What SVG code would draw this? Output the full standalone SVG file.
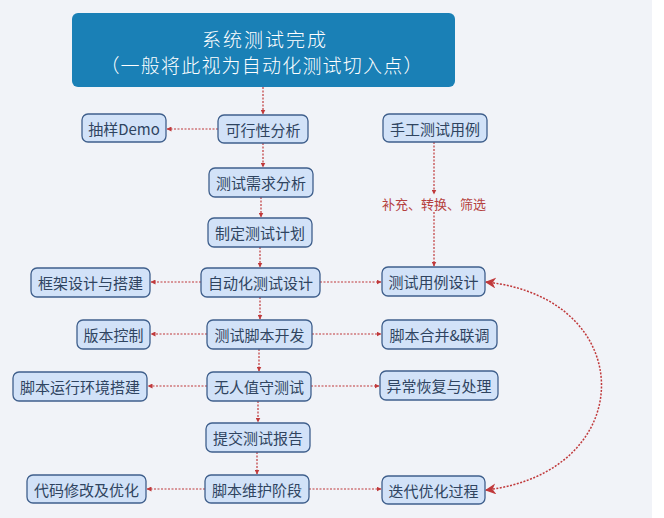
<svg xmlns="http://www.w3.org/2000/svg" width="664" height="518" viewBox="0 0 664 518">
<defs>
<style>
.n rect{fill:#d2e2f8;stroke:#3f5f8c;stroke-width:1.3}
.n text{font-family:"Noto Sans CJK SC","Liberation Sans",sans-serif;font-size:15px;fill:#2f4460;text-anchor:middle;dominant-baseline:central}
.t{font-family:"Noto Sans CJK SC","Liberation Sans",sans-serif;fill:#ffffff;text-anchor:middle;dominant-baseline:central;font-weight:300}
.c{stroke:#c0393b;stroke-width:1.2;stroke-dasharray:2 1.5;fill:none;marker-end:url(#a)}
.big{stroke:#c0393b;stroke-width:1.5;stroke-dasharray:2 1.5;fill:none;marker-start:url(#b);marker-end:url(#b)}
</style>
<marker id="a" viewBox="0 0 10 10" refX="9" refY="5" markerWidth="5" markerHeight="5" orient="auto" markerUnits="userSpaceOnUse"><path d="M0,0 L10,5 L0,10 z" fill="#c0393b"/></marker>
<marker id="b" viewBox="0 0 10 10" refX="9" refY="5" markerWidth="11" markerHeight="11" orient="auto-start-reverse" markerUnits="userSpaceOnUse"><path d="M0,0 L10,5 L0,10 L3,5 z" fill="#c0393b"/></marker>
</defs>
<rect x="0" y="0" width="664" height="518" fill="#ffffff"/>
<rect x="0" y="0" width="652" height="518" fill="#f1f3f8"/>

<g id="connectors">
<path class="c" d="M263,87 V114"/>
<path class="c" d="M263,143 V167"/>
<path class="c" d="M261,197 V217"/>
<path class="c" d="M260,247 V267"/>
<path class="c" d="M260,297 V319"/>
<path class="c" d="M259,349 V371"/>
<path class="c" d="M258,401 V422"/>
<path class="c" d="M257,452 V474"/>
<path class="c" d="M218,129 H167"/>
<path class="c" d="M201,282 H151"/>
<path class="c" d="M320,282 H381"/>
<path class="c" d="M207,334 H151"/>
<path class="c" d="M312,334 H381"/>
<path class="c" d="M207,386 H148"/>
<path class="c" d="M311,386 H379"/>
<path class="c" d="M205,489 H147"/>
<path class="c" d="M309,489 H381"/>
<path class="c" d="M434,142 V194"/>
<path class="c" d="M434,212 V266"/>
<path class="big" d="M486,282 C640,298 640,472 486,490"/>
</g>
<text x="434" y="203" font-family="'Noto Sans CJK SC','Liberation Sans',sans-serif" font-size="13" fill="#b5413f" text-anchor="middle" dominant-baseline="central">补充、转换、筛选</text>

<g id="title">
<rect x="72" y="13" width="383" height="74" rx="6" fill="#1a80b6"/>
<text class="t" x="265" y="38" font-size="19" letter-spacing="2">系统测试完成</text>
<text class="t" x="262" y="64" font-size="19" letter-spacing="1.2">（一般将此视为自动化测试切入点）</text>
</g>
<g id="n1" class="n"><rect x="218" y="115" width="90" height="28" rx="6"/><text x="263" y="129">可行性分析</text></g>
<g id="n2" class="n"><rect x="82" y="114" width="84" height="28" rx="6"/><text x="124" y="128">抽样Demo</text></g>
<g id="n3" class="n"><rect x="383" y="114" width="104" height="28" rx="6"/><text x="435" y="128">手工测试用例</text></g>
<g id="n4" class="n"><rect x="209" y="168" width="104" height="29" rx="6"/><text x="261" y="182.5">测试需求分析</text></g>
<g id="n5" class="n"><rect x="208" y="218" width="104" height="29" rx="6"/><text x="260" y="232.5">制定测试计划</text></g>
<g id="n6" class="n"><rect x="201" y="268" width="119" height="29" rx="6"/><text x="260.5" y="282.5">自动化测试设计</text></g>
<g id="n7" class="n"><rect x="31" y="268" width="119" height="29" rx="6"/><text x="90.5" y="282.5">框架设计与搭建</text></g>
<g id="n8" class="n"><rect x="382" y="267" width="103" height="29" rx="6"/><text x="433.5" y="281.5">测试用例设计</text></g>
<g id="n9" class="n"><rect x="77" y="320" width="73" height="29" rx="6"/><text x="113.5" y="334.5">版本控制</text></g>
<g id="n10" class="n"><rect x="207" y="320" width="105" height="29" rx="6"/><text x="259.5" y="334.5">测试脚本开发</text></g>
<g id="n11" class="n"><rect x="382" y="320" width="115" height="29" rx="6"/><text x="439.5" y="334.5">脚本合并&amp;联调</text></g>
<g id="n12" class="n"><rect x="13" y="372" width="134" height="29" rx="6"/><text x="80" y="386.5">脚本运行环境搭建</text></g>
<g id="n13" class="n"><rect x="207" y="372" width="104" height="29" rx="6"/><text x="259" y="386.5">无人值守测试</text></g>
<g id="n14" class="n"><rect x="380" y="371" width="118" height="29" rx="6"/><text x="439" y="385.5">异常恢复与处理</text></g>
<g id="n15" class="n"><rect x="206" y="423" width="104" height="29" rx="6"/><text x="258" y="437.5">提交测试报告</text></g>
<g id="n16" class="n"><rect x="27" y="475" width="119" height="28" rx="6"/><text x="86.5" y="489">代码修改及优化</text></g>
<g id="n17" class="n"><rect x="205" y="475" width="104" height="28" rx="6"/><text x="257" y="489">脚本维护阶段</text></g>
<g id="n18" class="n"><rect x="382" y="476" width="103" height="28" rx="6"/><text x="433.5" y="490">迭代优化过程</text></g>
</svg>
